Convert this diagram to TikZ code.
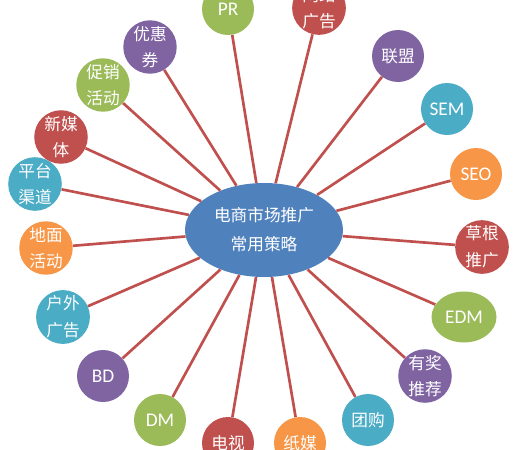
\documentclass[tikz,border=0pt]{standalone}
\usepackage{fontspec}
\setmainfont{Noto Sans CJK SC}
\newfontfamily\latinfont{Carlito}
\usepackage{tikz}
\usetikzlibrary{shapes.geometric}
\usepackage{xcolor}
\definecolor{offblue}{HTML}{4F81BD}
\definecolor{offred}{HTML}{C0504D}
\definecolor{offgreen}{HTML}{9BBB59}
\definecolor{offpurple}{HTML}{8064A2}
\definecolor{offcyan}{HTML}{4BACC6}
\definecolor{offorange}{HTML}{F79646}

\begin{document}
\begin{tikzpicture}[
    x=0.75pt, y=-0.75pt,
    hub/.style={ellipse, fill=offblue, minimum width=118.5pt, minimum height=70.5pt, inner sep=0pt, text=white, align=center, font=\fontsize{12.5}{21.75}\selectfont},
    leaf/.style={circle, minimum size=39pt, inner sep=0pt, text=white, align=center, font=\fontsize{12.5}{20}\selectfont},
    latin/.style={font=\latinfont\fontsize{14.5}{16}\selectfont},
    spoke/.style={color=offred, line width=2pt}
]
\useasboundingbox (0,0) rectangle (518,450);

\node[hub] (hub) at (264,230) {电商市场推广\\常用策略};

\node[leaf, fill=offgreen, latin] (pr) at (228,9) {PR};
\node[leaf, fill=offred] (wangluo) at (319,8) {网络\\广告};
\node[leaf, fill=offpurple] (lianmeng) at (398,56) {联盟};
\node[leaf, fill=offcyan, latin] (sem) at (447,109) {SEM};
\node[leaf, fill=offorange, latin] (seo) at (476,174) {SEO};
\node[leaf, fill=offred] (caogen) at (482,247) {草根\\推广};
\node[leaf, ellipse, minimum width=48.75pt, minimum height=38.25pt, fill=offgreen, latin] (edm) at (464,317) {EDM};
\node[leaf, fill=offpurple] (youjiang) at (425,376) {有奖\\推荐};
\node[leaf, fill=offcyan] (tuangou) at (368,420) {团购};
\node[leaf, fill=offorange] (zhimei) at (300,443) {纸媒};
\node[leaf, fill=offred] (dianshi) at (228,443) {电视};
\node[leaf, fill=offgreen, latin] (dm) at (160,420) {DM};
\node[leaf, fill=offpurple, latin] (bd) at (103,376) {BD};
\node[leaf, fill=offcyan] (huwai) at (63,317) {户外\\广告};
\node[leaf, fill=offorange] (dimian) at (46,248) {地面\\活动};
\node[leaf, fill=offcyan] (pingtai) at (35,184) {平台\\渠道};
\node[leaf, fill=offred] (xinmeiti) at (61,137) {新媒\\体};
\node[leaf, fill=offgreen] (cuxiao) at (103,85) {促销\\活动};
\node[leaf, fill=offpurple] (youhui) at (150,47) {优惠\\券};

\draw[spoke] (hub) -- (pr);
\draw[spoke] (hub) -- (wangluo);
\draw[spoke] (hub) -- (lianmeng);
\draw[spoke] (hub) -- (sem);
\draw[spoke] (hub) -- (seo);
\draw[spoke] (hub) -- (caogen);
\draw[spoke] (hub) -- (edm);
\draw[spoke] (hub) -- (youjiang);
\draw[spoke] (hub) -- (tuangou);
\draw[spoke] (hub) -- (zhimei);
\draw[spoke] (hub) -- (dianshi);
\draw[spoke] (hub) -- (dm);
\draw[spoke] (hub) -- (bd);
\draw[spoke] (hub) -- (huwai);
\draw[spoke] (hub) -- (dimian);
\draw[spoke] (hub) -- (pingtai);
\draw[spoke] (hub) -- (xinmeiti);
\draw[spoke] (hub) -- (cuxiao);
\draw[spoke] (hub) -- (youhui);

\end{tikzpicture}
\end{document}
